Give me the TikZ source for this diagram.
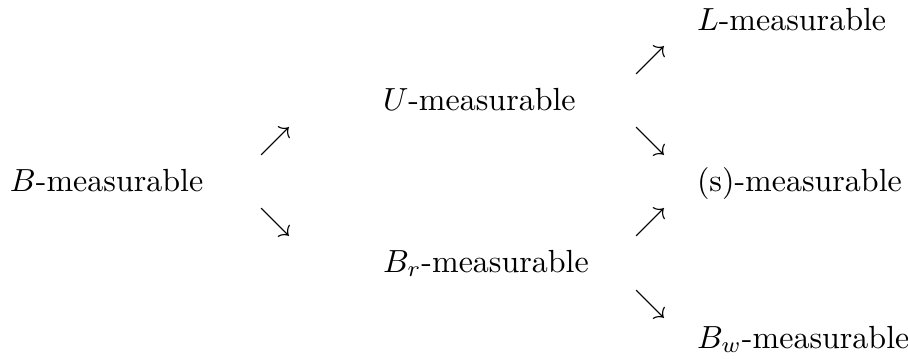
\documentclass[tikz,border=0pt]{standalone}
\begin{document}
\begin{tikzpicture}[x=0.3125pt,y=-0.3125pt,
  lbl/.style={anchor=base west,inner sep=0pt,outer sep=0pt},
  arr/.style={inner sep=0pt,outer sep=0pt}]
\useasboundingbox (0,0) rectangle (908,358);
\node[lbl] (B) at (10,191) {$B$-measurable};
\node[arr] (a1) at (275,141) {$\nearrow$};
\node[arr] (a2) at (275,222) {$\searrow$};
\node[lbl] (U) at (383,110) {$U$-measurable};
\node[lbl] (Br) at (383,272) {$B_r$-measurable};
\node[arr] (a3) at (650,60) {$\nearrow$};
\node[arr] (a4) at (650,141) {$\searrow$};
\node[arr] (a5) at (650,222) {$\nearrow$};
\node[arr] (a6) at (650,304) {$\searrow$};
\node[lbl] (L) at (697,30) {$L$-measurable};
\node[lbl] (S) at (697,191) {(s)-measurable};
\node[lbl] (Bw) at (697,348) {$B_w$-measurable};
\end{tikzpicture}
\end{document}
